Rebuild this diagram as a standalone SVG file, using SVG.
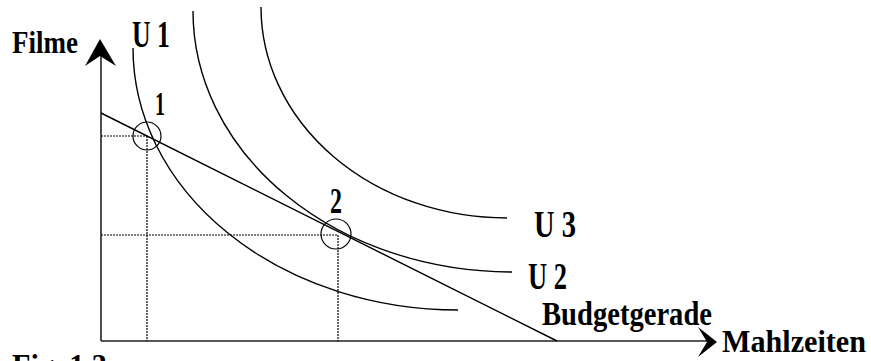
<svg xmlns="http://www.w3.org/2000/svg" width="871" height="361" viewBox="0 0 871 361">
<style>
.lbl{font-family:"Liberation Serif","DejaVu Serif",serif;font-weight:bold;fill:#000}
.curve{fill:none;stroke:#000;stroke-width:1.4}
.axis{fill:none;stroke:#222;stroke-width:1.6}
.dot{fill:none;stroke:#000;stroke-width:1.2;stroke-dasharray:2 1}
.mark{fill:none;stroke:#000;stroke-width:1.2}
.head{fill:#000;stroke:none}
</style>
<rect width="871" height="361" fill="#fff"/>
<g id="axes">
<line class="axis" x1="101" y1="55" x2="101" y2="341"/>
<line class="axis" x1="101" y1="341" x2="708" y2="341"/>
<path class="head" d="M100,39 L116,66 L100,56 L85,66 Z"/>
<path class="head" d="M717,342 L698,327 L707,342 L698,357 Z"/>
</g>
<g id="connectors">
<line class="dot" x1="101" y1="136" x2="147" y2="136"/>
<line class="dot" x1="147" y1="136" x2="147" y2="341"/>
<line class="dot" x1="101" y1="235" x2="338" y2="235"/>
<line class="dot" x1="338" y1="235" x2="338" y2="341"/>
</g>
<g id="budget">
<line class="curve" x1="101" y1="113" x2="557" y2="341"/>
</g>
<g id="u1"><path class="curve" d="M133,48 A325,262 0 0 0 458,310"/></g>
<g id="u2"><path class="curve" d="M193,11 A319,261 0 0 0 512,272"/></g>
<g id="u3"><path class="curve" d="M261,7 A246,211 0 0 0 507,218"/></g>
<g id="p1"><circle class="mark" cx="147" cy="136" r="14"/></g>
<g id="p2"><circle class="mark" cx="336" cy="234" r="15"/></g>
<g id="labels">
<text class="lbl" x="12" y="53" font-size="32" textLength="66" lengthAdjust="spacingAndGlyphs">Filme</text>
<text class="lbl" x="132" y="47" font-size="37" textLength="38" lengthAdjust="spacingAndGlyphs">U 1</text>
<text class="lbl" x="155" y="115" font-size="34" textLength="10" lengthAdjust="spacingAndGlyphs">1</text>
<text class="lbl" x="330" y="213" font-size="35" textLength="12" lengthAdjust="spacingAndGlyphs">2</text>
<text class="lbl" x="534" y="237" font-size="37" textLength="42" lengthAdjust="spacingAndGlyphs">U 3</text>
<text class="lbl" x="528" y="289" font-size="37" textLength="39" lengthAdjust="spacingAndGlyphs">U 2</text>
<text class="lbl" x="542" y="325" font-size="34" textLength="170" lengthAdjust="spacingAndGlyphs">Budgetgerade</text>
<text class="lbl" x="722" y="352" font-size="31" textLength="144" lengthAdjust="spacingAndGlyphs">Mahlzeiten</text>
<text class="lbl" x="12" y="376" font-size="32" textLength="95" lengthAdjust="spacingAndGlyphs">Fig. 1.3</text>
</g>
</svg>
